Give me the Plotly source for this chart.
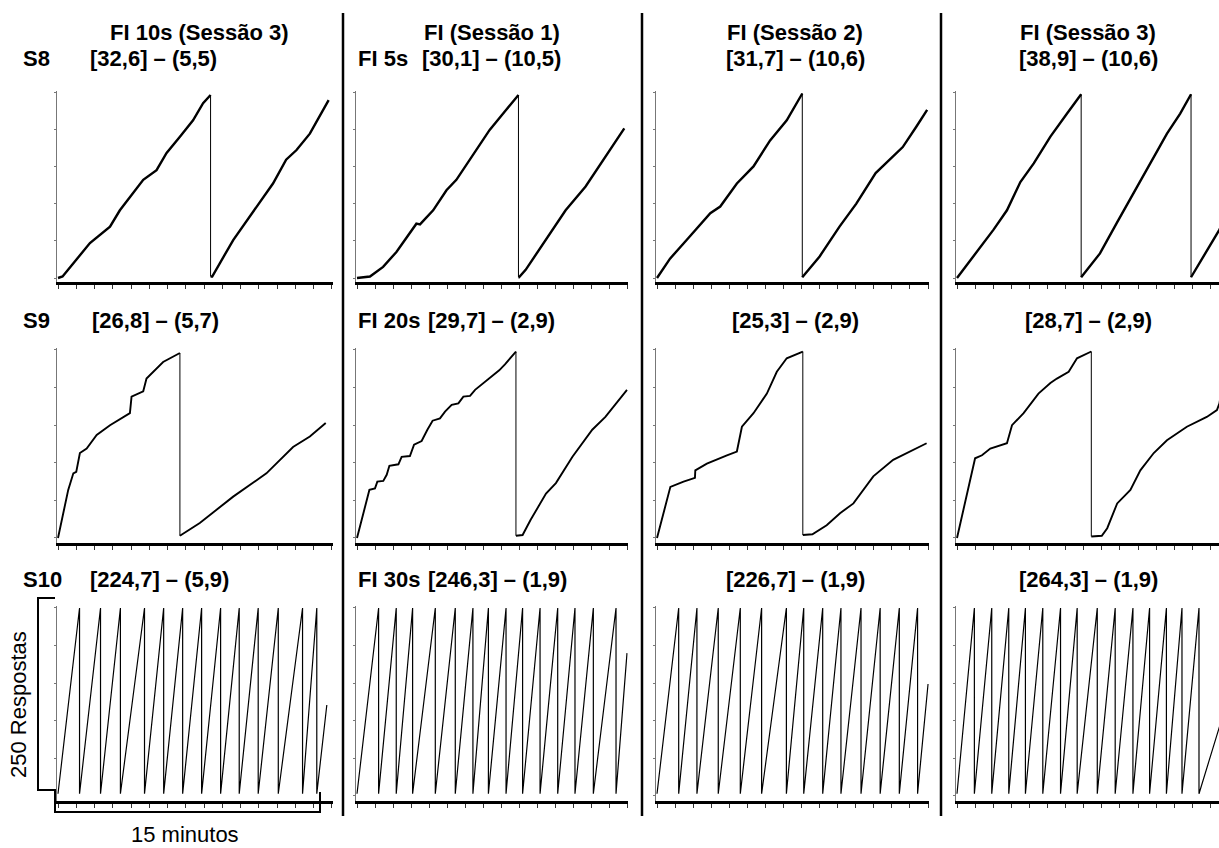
import plotly.graph_objects as go

W, H = 1219, 848

# ---------------- data: x = minutes, y = cumulative responses ----------------
# Row 1 (FI 10s / FI 5s)
r1c1_x = [0, 0.25, 1.75, 2.85, 3.39, 4.67, 5.4, 5.95, 6.68, 7.4, 7.95, 8.36, 8.36, 8.45, 9.6, 10.87, 11.78, 12.5, 13.07, 13.8, 14.83]
r1c1_y = [0, 2, 47, 69, 91, 132, 145, 168, 190, 212, 235, 246, 2, 2, 51, 96, 127, 159, 172, 194, 239]
r1c2_x = [0, 0.72, 1.45, 2.19, 3.3, 3.5, 4.23, 4.97, 5.52, 6.44, 7.37, 8.29, 8.97, 8.97, 9.0, 9.37, 10.48, 11.59, 12.7, 13.81, 14.85]
r1c2_y = [0, 2, 15, 35, 73, 72, 91, 118, 132, 165, 199, 226, 246, 1, 1, 11, 51, 91, 123, 163, 201]
r1c3_x = [0, 0.72, 1.64, 2.95, 3.5, 4.42, 5.34, 6.26, 7.18, 8.04, 8.04, 9.0, 10.1, 11.03, 12.1, 13.6, 14.34, 14.95]
r1c3_y = [0, 26, 51, 87, 96, 127, 150, 185, 212, 248, 1, 29, 69, 100, 141, 176, 203, 226]
r1c4_x = [0, 0.92, 2.02, 2.76, 3.5, 4.24, 5.16, 6.08, 6.86, 6.86, 7.9, 8.83, 9.75, 10.67, 11.6, 12.33, 12.93, 12.93, 13.62, 14.5, 14.7]
r1c4_y = [0, 29, 65, 91, 129, 154, 190, 221, 247, 1, 33, 74, 114, 154, 194, 221, 247, 1, 29, 65, 75]

# Row 2 (FI 10s / FI 20s)
r2c1_x = [0, 0.29, 0.56, 0.84, 1.0, 1.2, 1.57, 2.12, 2.85, 3.94, 4.03, 4.67, 4.85, 5.76, 6.68, 6.68, 7.77, 9.6, 11.42, 12.88, 13.8, 14.67]
r2c1_y = [0, 33, 64, 86, 88, 113, 119, 137, 150, 166, 188, 195, 212, 234, 246, 3, 20, 55, 86, 121, 135, 153]
r2c2_x = [0, 0.69, 1.0, 1.13, 1.46, 1.65, 1.8, 2.3, 2.48, 2.94, 3.17, 3.59, 3.91, 4.2, 4.61, 4.89, 5.26, 5.63, 5.91, 6.28, 6.56, 6.93, 7.2, 7.57, 7.9, 8.22, 8.5, 8.83,
          8.83, 9.2, 9.64, 10.1, 10.5, 11.05, 11.97, 13.07, 13.8, 15.0]
r2c2_y = [0, 64, 66, 75, 76, 84, 96, 98, 108, 109, 124, 129, 144, 156, 159, 168, 177, 179, 188, 189, 197, 204, 210, 217, 223, 231, 239, 248,
          3, 4, 24, 42, 59, 73, 108, 144, 161, 197]
r2c3_x = [0, 0.74, 1.47, 2.1, 2.12, 2.76, 3.87, 4.42, 4.7, 5.34, 6.08, 6.63, 7.18, 8.07, 8.07, 8.6, 9.39, 10.13, 10.87, 11.97, 13.07, 13.8, 14.92]
r2c3_y = [0, 68, 75, 80, 90, 99, 110, 115, 148, 166, 192, 221, 239, 248, 4, 5, 17, 33, 46, 82, 104, 113, 126]
r2c4_x = [0, 1.0, 1.38, 1.84, 2.76, 3.04, 3.68, 4.15, 4.5, 5.16, 5.52, 6.17, 6.63, 7.42, 7.42, 8.0, 8.3, 8.85, 9.58, 10.13, 10.87, 11.6, 12.7, 13.8, 14.36, 14.5, 14.6]
r2c4_y = [0, 106, 110, 119, 126, 150, 166, 181, 192, 206, 212, 221, 239, 248, 2, 3, 13, 46, 64, 90, 113, 130, 148, 161, 170, 179, 195]

# Row 3 (FI 10s / FI 30s): pen reset times (minutes) and final partial point
r3c1_resets = [1.18, 2.33, 3.42, 4.74, 5.79, 6.83, 7.87, 8.91, 9.93, 10.97, 12.07, 13.4, 14.18]
r3c1_end = [14.73, 121]
r3c2_resets = [1.2, 2.18, 3.09, 4.35, 5.46, 6.44, 7.3, 8.28, 9.2, 10.17, 11.15, 12.11, 13.13, 14.39]
r3c2_end = [15.0, 190]
r3c3_resets = [1.2, 2.21, 3.39, 4.61, 5.79, 7.16, 8.12, 9.17, 10.18, 11.29, 12.35, 13.41, 14.42]
r3c3_end = [15.0, 149]
r3c4_resets = [0.96, 1.92, 2.86, 3.78, 4.74, 5.72, 6.64, 7.75, 8.74, 9.72, 10.64, 11.57, 12.43, 13.37]
r3c4_end = [14.6, 100]
r3_floor = 3
r3_top = 250

col_titles = ["FI 10s (Sessão 3)", "FI (Sessão 1)", "FI (Sessão 2)", "FI (Sessão 3)"]
row_subjects = ["S8", "S9", "S10"]
row_schedules = ["FI 5s", "FI 20s", "FI 30s"]
stats = [["[32,6] – (5,5)", "[30,1] – (10,5)", "[31,7] – (10,6)", "[38,9] – (10,6)"],
         ["[26,8] – (5,7)", "[29,7] – (2,9)", "[25,3] – (2,9)", "[28,7] – (2,9)"],
         ["[224,7] – (5,9)", "[246,3] – (1,9)", "[226,7] – (1,9)", "[264,3] – (1,9)"]]
y_ticks = [0, 50, 100, 150, 200, 250]
x_ticks = [0, 1, 2, 3, 4, 5, 6, 7, 8, 9, 10, 11, 12, 13, 14, 15]
y_label = "250 Respostas"
x_label = "15 minutos"

# ---------------- layout geometry (pixels) ----------------
col_x0 = [58, 357, 657, 957]
col_s = [18.25, 18.0, 18.07, 18.1]
row_y0 = [278, 538, 796]
row_k = [0.744, 0.752, 0.752]
XR = [-0.08, 15.05]
YR = [-6, 252]
FONT = "Liberation Sans, Arial, sans-serif"
row_width = [2.4, 1.9, 1.2]


def px(x):
    return x / W


def py(y):
    return 1 - y / H


row_data = [
    [(r1c1_x, r1c1_y), (r1c2_x, r1c2_y), (r1c3_x, r1c3_y), (r1c4_x, r1c4_y)],
    [(r2c1_x, r2c1_y), (r2c2_x, r2c2_y), (r2c3_x, r2c3_y), (r2c4_x, r2c4_y)],
]
row3 = [(r3c1_resets, r3c1_end), (r3c2_resets, r3c2_end), (r3c3_resets, r3c3_end), (r3c4_resets, r3c4_end)]

fig = go.Figure()
layout = dict(width=W, height=H, margin=dict(l=0, r=0, t=0, b=0),
              paper_bgcolor="white", plot_bgcolor="white", showlegend=False)

for r in range(3):
    for c in range(4):
        idx = r * 4 + c + 1
        sfx = "" if idx == 1 else str(idx)
        x0, s = col_x0[c], col_s[c]
        left = x0 + XR[0] * s
        right = x0 + XR[1] * s
        xmax = XR[1]
        if right > W:
            right = W
            xmax = (W - x0) / s
        y0, k = row_y0[r], row_k[r]
        bottom = y0 - YR[0] * k
        top = y0 - YR[1] * k
        layout["xaxis" + sfx] = dict(domain=[px(left), px(right)], range=[XR[0], xmax],
                                     anchor="y" + sfx, showline=True, linecolor="black", linewidth=3,
                                     ticks="outside", ticklen=4, tickwidth=1, tickcolor="#333",
                                     tickvals=x_ticks, showticklabels=False, showgrid=False,
                                     zeroline=False, fixedrange=True)
        layout["yaxis" + sfx] = dict(domain=[py(bottom), py(top)], range=YR,
                                     anchor="x" + sfx, showline=True, linecolor="#777", linewidth=1,
                                     ticks="outside", ticklen=2, tickwidth=1, tickcolor="#777",
                                     tickvals=y_ticks, showticklabels=False, showgrid=False,
                                     zeroline=False, fixedrange=True)
        xa, ya = "x" + sfx, "y" + sfx
        if r < 2:
            xs, ys = row_data[r][c]
            rx, ry, dx, dy = [xs[0]], [ys[0]], [], []
            for i in range(1, len(xs)):
                if xs[i] == xs[i - 1] and ys[i] < ys[i - 1]:
                    dx += [xs[i - 1], xs[i], None]
                    dy += [ys[i - 1], ys[i], None]
                    rx += [None, xs[i]]
                    ry += [None, ys[i]]
                else:
                    rx.append(xs[i])
                    ry.append(ys[i])
            fig.add_trace(go.Scatter(x=rx, y=ry, mode="lines", xaxis=xa, yaxis=ya,
                                     line=dict(color="black", width=row_width[r]),
                                     hoverinfo="skip"))
            fig.add_trace(go.Scatter(x=dx, y=dy, mode="lines", xaxis=xa, yaxis=ya,
                                     line=dict(color="black", width=1), hoverinfo="skip"))
        else:
            resets, end = row3[c]
            xs, ys = [0], [r3_floor]
            for t in resets:
                xs += [t, t]
                ys += [r3_top, r3_floor]
            xs.append(end[0])
            ys.append(end[1])
            fig.add_trace(go.Scatter(x=xs, y=ys, mode="lines", xaxis=xa, yaxis=ya,
                                     line=dict(color="black", width=row_width[r]), hoverinfo="skip"))

# ---------------- text ----------------
ann = []
bold = dict(family=FONT, size=22, color="black")
title_cx = [199, 492, 795, 1088]
row_label_y = [59, 320, 579]
stat_left = {0: [88, 90, 88], 1: [420, 426, 426]}
stat_cx = {2: 795, 3: 1088}
for c in range(4):
    ann.append(dict(text="<b>%s</b>" % col_titles[c], x=px(title_cx[c]), y=py(33),
                    xref="paper", yref="paper", xanchor="center", yanchor="middle",
                    showarrow=False, font=bold))
for r in range(3):
    ann.append(dict(text="<b>%s</b>" % row_subjects[r], x=px(21), y=py(row_label_y[r]),
                    xref="paper", yref="paper", xanchor="left", yanchor="middle",
                    showarrow=False, font=bold))
    ann.append(dict(text="<b>%s</b>" % row_schedules[r], x=px(356), y=py(row_label_y[r]),
                    xref="paper", yref="paper", xanchor="left", yanchor="middle",
                    showarrow=False, font=bold))
    for c in range(4):
        if c in stat_left:
            xpos, anc = stat_left[c][r], "left"
        else:
            xpos, anc = stat_cx[c], "center"
        ann.append(dict(text="<b>%s</b>" % stats[r][c], x=px(xpos), y=py(row_label_y[r]),
                        xref="paper", yref="paper", xanchor=anc, yanchor="middle",
                        showarrow=False, font=bold))
ann.append(dict(text=y_label, x=px(18), y=py(705), xref="paper", yref="paper",
                xanchor="center", yanchor="middle", textangle=-90, showarrow=False,
                font=dict(family=FONT, size=22, color="black")))
ann.append(dict(text=x_label, x=px(185), y=py(834), xref="paper", yref="paper",
                xanchor="center", yanchor="middle", showarrow=False,
                font=dict(family=FONT, size=22, color="black")))
layout["annotations"] = ann

# ---------------- separators and scale brackets ----------------
shapes = []
for sx in [343, 642, 941]:
    shapes.append(dict(type="line", xref="paper", yref="paper", x0=px(sx), x1=px(sx),
                       y0=py(13), y1=py(816), line=dict(color="black", width=2.5)))
path = "M {a},{b} L {c},{b} L {c},{d} L {a},{d} L {a},{e} L {f},{e} L {f},{g}".format(
    a=px(55), b=py(598), c=px(38), d=py(790), e=py(812), f=px(320), g=py(792))
shapes.append(dict(type="path", xref="paper", yref="paper", path=path,
                   line=dict(color="black", width=2)))
layout["shapes"] = shapes

fig.update_layout(**layout)
fig.write_html("out.html", post_script="document.body.style.margin='0px';",
               config={"displayModeBar": False})
